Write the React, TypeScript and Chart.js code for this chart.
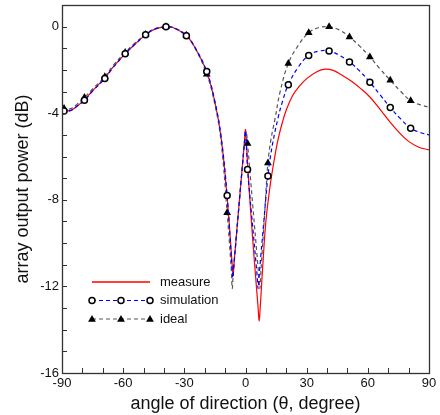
import { useEffect, useRef } from 'react';
import { Chart, registerables } from 'chart.js';

Chart.register(...registerables);

// ---- data ----
const measureAngles = [-90, -89, -86, -83, -79, -75, -69, -65, -59, -55, -49, -45, -39, -35, -29, -25, -19, -15, -12, -9, -6.6, -6.1, -5.6, -0.5, 0, 0.5, 1, 2.5, 4.5, 6.2, 6.7, 7.2, 8.5, 10, 12, 14, 16, 18, 20, 23, 26, 30, 35, 39, 43, 47, 52, 57, 61, 66, 71, 76, 80, 85, 90];
const measureValues = [-3.85, -3.86, -3.88, -3.7, -3.38, -2.96, -2.37, -1.87, -1.25, -0.88, -0.38, -0.14, 0, -0.06, -0.42, -0.93, -2.1, -3.5, -5.1, -7.9, -10.9, -11.5, -10.9, -5.3, -4.75, -5.5, -6.3, -8.5, -11.0, -13.0, -13.6, -13.0, -11.0, -9.0, -7.4, -6.2, -5.2, -4.45, -3.85, -3.2, -2.8, -2.4, -2.08, -1.96, -2.02, -2.22, -2.52, -2.9, -3.25, -3.82, -4.42, -4.95, -5.3, -5.57, -5.69];

const simAngles = [-90, -89, -86, -83, -79, -75, -69, -65, -59, -55, -49, -45, -39, -35, -29, -25, -19, -15, -12, -9, -6.7, -6.2, -5.7, -0.5, 0, 0.5, 1, 3, 5.7, 6.2, 6.7, 7.5, 9, 10, 11, 12, 13.5, 16, 18, 21, 26, 31, 36, 41, 46, 51, 56, 61, 66, 71, 76, 81, 86, 90];
const simValues = [-3.88, -3.9, -3.88, -3.7, -3.4, -2.98, -2.4, -1.9, -1.25, -0.88, -0.38, -0.13, 0, -0.06, -0.42, -0.92, -2.07, -3.45, -5.05, -7.8, -11.0, -11.6, -11.0, -5.3, -4.8, -5.6, -6.6, -8.7, -11.5, -12.1, -11.5, -10.6, -9.0, -7.9, -6.9, -6.15, -5.3, -4.2, -3.5, -2.68, -1.85, -1.33, -1.13, -1.12, -1.32, -1.63, -2.05, -2.57, -3.15, -3.73, -4.25, -4.69, -4.9, -5.0];

const idealAngles = [-90, -89, -86, -83, -79, -75, -69, -65, -59, -55, -49, -45, -39, -35, -29, -25, -19, -15, -12, -9, -7, -6.5, -6, -0.5, 0.3, 1, 3.5, 6.5, 7, 7.5, 9.5, 11, 12.5, 14.4, 17, 21, 26, 31, 36, 41, 46, 51, 56, 61, 66, 71, 76, 81, 86, 90];
const idealValues = [-3.8, -3.78, -3.8, -3.62, -3.27, -2.88, -2.31, -1.8, -1.19, -0.82, -0.36, -0.12, 0, -0.05, -0.4, -0.95, -2.2, -3.6, -5.3, -8.6, -11.2, -12.1, -11.4, -5.4, -4.85, -5.4, -8.2, -11.5, -12.1, -11.4, -8.46, -6.3, -5.2, -4.3, -3.0, -1.7, -0.85, -0.28, -0.04, -0.01, -0.15, -0.48, -0.9, -1.4, -1.95, -2.48, -2.98, -3.42, -3.62, -3.72];

const markerAngles = [-89, -79, -69, -59, -49, -39, -29, -19, -9, 1, 11, 21, 31, 41, 51, 61, 71, 81];

const xTickLabels = ['-90', '-60', '-30', '0', '30', '60', '90'];
const yTickLabels = ['0', '-4', '-8', '-12', '-16'];
const seriesNames = ['measure', 'simulation', 'ideal'];
const xTitle = 'angle of direction (\u03b8, degree)';
const yTitle = 'array output power (dB)';

const FONT = '"Liberation Sans", Arial, Helvetica, sans-serif';
const TEXT = '#111';
const RED = '#ff0000';
const BLUE = '#0000ff';
const GRAY = '#555555';

const toPoints = (xs: number[], ys: number[]) => xs.map((x, i) => ({ x, y: ys[i] }));
const isMarker = (c: any) => c && c.raw && markerAngles.includes(c.raw.x);

function drawTriangle(ctx: CanvasRenderingContext2D, x: number, y: number, r: number) {
  ctx.beginPath();
  let a = 0;
  ctx.moveTo(x + Math.sin(a) * r, y - Math.cos(a) * r);
  a += (2 * Math.PI) / 3;
  ctx.lineTo(x + Math.sin(a) * r, y - Math.cos(a) * r);
  a += (2 * Math.PI) / 3;
  ctx.lineTo(x + Math.sin(a) * r, y - Math.cos(a) * r);
  ctx.closePath();
  ctx.fillStyle = '#000';
  ctx.fill();
}

function drawCircle(ctx: CanvasRenderingContext2D, x: number, y: number, r: number) {
  ctx.beginPath();
  ctx.arc(x, y, r, 0, Math.PI * 2);
  ctx.fillStyle = '#fff';
  ctx.fill();
  ctx.lineWidth = 1.5;
  ctx.strokeStyle = '#000';
  ctx.stroke();
}

const framePlugin = {
  id: 'frameTicks',
  afterDatasetsDraw(chart: any) {
    const { ctx, chartArea: a, scales } = chart;
    ctx.save();
    ctx.strokeStyle = '#333';
    ctx.lineWidth = 1;
    const tl = 5;
    const xs = scales.x;
    xs.ticks.forEach((t: any) => {
      const px = Math.round(xs.getPixelForValue(t.value)) + 0.5;
      if (px <= a.left + 1 || px >= a.right - 1) return;
      ctx.beginPath();
      ctx.moveTo(px, a.bottom);
      ctx.lineTo(px, a.bottom - tl);
      ctx.stroke();
    });
    const ys = scales.y;
    ys.ticks.forEach((t: any) => {
      const py = Math.round(ys.getPixelForValue(t.value)) + 0.5;
      if (py <= a.top + 1 || py >= a.bottom - 1) return;
      ctx.beginPath();
      ctx.moveTo(a.left, py);
      ctx.lineTo(a.left + tl, py);
      ctx.stroke();
    });
    ctx.lineWidth = 1.3;
    ctx.strokeRect(Math.round(a.left) + 0.5, Math.round(a.top) + 0.5, Math.round(a.right - a.left), Math.round(a.bottom - a.top));
    ctx.restore();
  },
};

const legendPlugin = {
  id: 'lineLegend',
  afterDraw(chart: any) {
    const { ctx, chartArea: a } = chart;
    const x0 = a.left + 30;
    const x1 = a.left + 88;
    const xm = (x0 + x1) / 2;
    const tx = a.left + 98;
    const rows = [a.top + 277, a.top + 295.5, a.top + 314];
    ctx.save();
    ctx.strokeStyle = RED;
    ctx.lineWidth = 1.5;
    ctx.setLineDash([]);
    ctx.beginPath();
    ctx.moveTo(x0, rows[0]);
    ctx.lineTo(x1, rows[0]);
    ctx.stroke();
    ctx.strokeStyle = BLUE;
    ctx.lineWidth = 1.2;
    ctx.setLineDash([4, 3]);
    ctx.beginPath();
    ctx.moveTo(x0, rows[1]);
    ctx.lineTo(x1, rows[1]);
    ctx.stroke();
    ctx.strokeStyle = GRAY;
    ctx.beginPath();
    ctx.moveTo(x0, rows[2]);
    ctx.lineTo(x1, rows[2]);
    ctx.stroke();
    ctx.setLineDash([]);
    [x0, xm, x1].forEach((x) => {
      drawCircle(ctx, x, rows[1], 3);
      drawTriangle(ctx, x, rows[2] + 0.5, 4.5);
    });
    ctx.fillStyle = TEXT;
    ctx.font = `13px ${FONT}`;
    ctx.textAlign = 'left';
    ctx.textBaseline = 'middle';
    seriesNames.forEach((n, i) => ctx.fillText(n, tx, rows[i]));
    ctx.restore();
  },
};

export default function App() {
  const ref = useRef<HTMLCanvasElement>(null);

  useEffect(() => {
    document.body.style.margin = '0';
    if (!ref.current) return;
    const chart = new Chart(ref.current, {
      type: 'line',
      data: {
        datasets: [
          {
            label: seriesNames[1],
            data: toPoints(simAngles, simValues),
            borderColor: BLUE,
            borderWidth: 1.2,
            borderDash: [4, 3],
            tension: 0.4,
            pointStyle: 'circle',
            pointRadius: (c: any) => (isMarker(c) ? 3 : 0),
            pointBackgroundColor: '#fff',
            pointBorderColor: '#000',
            pointBorderWidth: 1.5,
            pointHoverRadius: 0,
          },
          {
            label: seriesNames[2],
            data: toPoints(idealAngles, idealValues),
            borderColor: GRAY,
            borderWidth: 1.2,
            borderDash: [4, 3],
            tension: 0.4,
            pointStyle: 'triangle',
            pointRadius: (c: any) => (isMarker(c) ? 4.5 : 0),
            pointBackgroundColor: '#000',
            pointBorderColor: '#000',
            pointBorderWidth: 0,
            pointHoverRadius: 0,
          },
          {
            label: seriesNames[0],
            data: toPoints(measureAngles, measureValues),
            borderColor: RED,
            borderWidth: 1.2,
            tension: 0.4,
            pointRadius: 0,
            pointHoverRadius: 0,
          },
        ],
      },
      options: {
        animation: false,
        responsive: false,
        events: [],
        layout: { padding: { top: 5, right: 11, left: 0, bottom: 0 } },
        plugins: { legend: { display: false }, tooltip: { enabled: false } },
        scales: {
          x: {
            type: 'linear',
            min: -90,
            max: 90,
            grid: { display: false, drawTicks: false },
            border: { display: false },
            ticks: {
              stepSize: 10,
              autoSkip: false,
              maxRotation: 0,
              padding: 3,
              color: TEXT,
              font: { size: 13, family: FONT },
              callback: (v: any) => (xTickLabels.includes(String(v)) ? String(v) : ''),
            },
            title: {
              display: true,
              text: xTitle,
              color: TEXT,
              font: { size: 18, family: FONT },
              padding: { top: 0, bottom: 0 },
            },
            afterFit: (s: any) => {
              s.height = 42;
              s.paddingLeft = 0;
              s.paddingRight = 0;
            },
          },
          y: {
            type: 'linear',
            min: -16,
            max: 1,
            grid: { display: false, drawTicks: false },
            border: { display: false },
            ticks: {
              stepSize: 1,
              autoSkip: false,
              padding: 3,
              color: TEXT,
              font: { size: 13, family: FONT },
              callback: (v: any) => (yTickLabels.includes(String(v)) ? String(v) : ''),
            },
            title: {
              display: true,
              text: yTitle,
              color: TEXT,
              font: { size: 18, family: FONT },
              padding: { top: 12, bottom: 0 },
            },
            afterFit: (s: any) => {
              s.width = 62;
              s.paddingTop = 0;
              s.paddingBottom = 0;
            },
          },
        },
      },
      plugins: [framePlugin, legendPlugin],
    });
    return () => chart.destroy();
  }, []);

  return (
    <div style={{ width: 440, height: 415, background: '#fff' }}>
      <canvas ref={ref} width={440} height={415} />
    </div>
  );
}
